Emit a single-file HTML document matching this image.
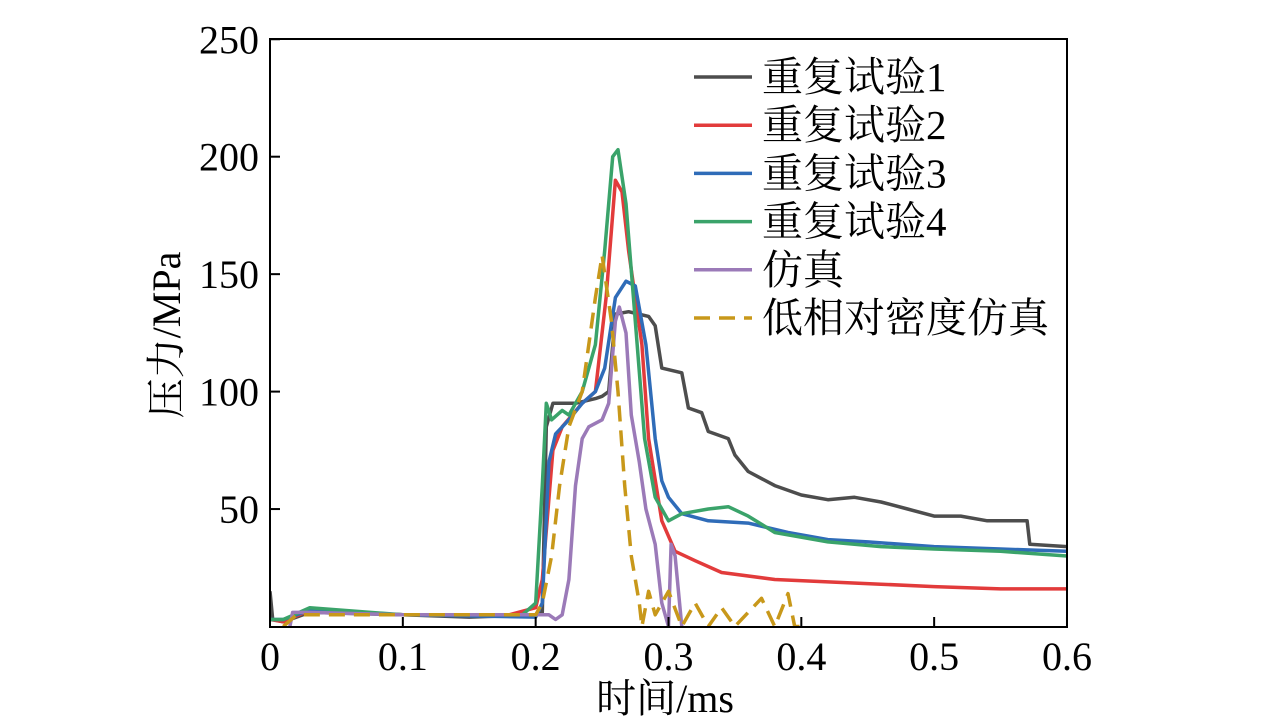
<!DOCTYPE html>
<html><head><meta charset="utf-8"><style>
body{margin:0;background:#fff;}
svg{display:block;font-family:"Liberation Serif","Noto Serif CJK SC",serif;}
</style></head><body>
<svg id="chart" width="1276" height="723">
<defs><clipPath id="clip"><rect x="270" y="39" width="797" height="588"/></clipPath></defs>
<g id="series" clip-path="url(#clip)"></g>
<rect x="270" y="39" width="797" height="588" fill="none" stroke="#000" stroke-width="2"/>
<g id="axes"></g>
<text x="0" y="0" transform="translate(180,335) rotate(-90)" font-size="40" text-anchor="middle">压力/MPa</text>
<text x="665" y="712" font-size="40" text-anchor="middle">时间/ms</text>
<g id="legend"></g>
</svg>
<script>
const xTicks=[0,0.1,0.2,0.3,0.4,0.5,0.6];
const xTickLabels=["0","0.1","0.2","0.3","0.4","0.5","0.6"];
const yTicks=[50,100,150,200,250];
const yTickLabels=["50","100","150","200","250"];
const seriesNames=["重复试验1","重复试验2","重复试验3","重复试验4","仿真","低相对密度仿真"];
const t1=[0,0.002,0.01,0.03,0.1,0.15,0.2,0.205,0.208,0.213,0.23,0.245,0.25,0.255,0.26,0.27,0.285,0.29,0.295,0.31,0.315,0.325,0.33,0.345,0.35,0.36,0.38,0.4,0.42,0.44,0.46,0.48,0.5,0.52,0.54,0.57,0.572,0.6];
const v1=[15,3,2,6,5,4,5,6,85,95,95,97,98,100,133,134,132,128,110,108,93,91,83,80,73,66,60,56,54,55,53,50,47,47,45,45,35,34];
const t2=[0,0.01,0.03,0.1,0.18,0.2,0.205,0.213,0.22,0.235,0.245,0.253,0.26,0.265,0.27,0.28,0.285,0.295,0.305,0.32,0.34,0.38,0.42,0.46,0.5,0.55,0.6];
const v2=[3,2,7,5,5,8,20,75,85,95,100,140,190,185,160,120,80,45,32,28,23,20,19,18,17,16,16];
const t3=[0,0.01,0.03,0.1,0.2,0.205,0.21,0.215,0.225,0.235,0.245,0.252,0.26,0.268,0.275,0.283,0.29,0.295,0.3,0.31,0.33,0.36,0.39,0.42,0.45,0.5,0.55,0.6];
const v3=[3,3,7,5,4,10,70,82,88,95,100,110,140,147,145,120,80,62,55,48,45,44,40,37,36,34,33,32];
const t4=[0,0.01,0.03,0.1,0.19,0.2,0.205,0.208,0.212,0.22,0.225,0.235,0.245,0.252,0.258,0.262,0.268,0.275,0.282,0.29,0.3,0.31,0.33,0.345,0.36,0.38,0.42,0.46,0.5,0.55,0.6];
const v4=[3,3,8,5,5,10,60,95,88,92,90,100,120,160,200,203,180,130,80,55,45,48,50,51,47,40,36,34,33,32,30];
const t5=[0.015,0.017,0.03,0.1,0.2,0.21,0.215,0.22,0.225,0.23,0.235,0.24,0.25,0.255,0.26,0.263,0.268,0.272,0.278,0.283,0.29,0.295,0.3,0.302,0.305,0.31];
const v5=[0,6,6,5,5,5,3,5,20,60,80,85,88,95,130,136,125,90,70,50,35,10,0,35,30,0];
const t6=[0.01,0.02,0.03,0.1,0.2,0.205,0.212,0.218,0.225,0.235,0.245,0.25,0.257,0.262,0.267,0.272,0.278,0.28,0.285,0.29,0.3,0.31,0.32,0.33,0.34,0.35,0.37,0.38,0.39,0.395,0.4];
const v6=[0,5,5,5,5,10,30,60,85,100,140,158,130,100,60,30,10,0,15,5,15,0,10,0,8,0,12,0,14,0,0];
const colors=["#4d4d4d","#e23b3b","#2f6cb8","#3aa36a","#9b7ab8","#c8981a"];
const X=t=>270+t*1328.3, Y=v=>626.5-v*2.349;
const NS="http://www.w3.org/2000/svg";
const sg=document.getElementById('series');
const all=[[t1,v1],[t2,v2],[t3,v3],[t4,v4],[t5,v5],[t6,v6]];
all.forEach((s,i)=>{
 const p=document.createElementNS(NS,'polyline');
 p.setAttribute('points',s[0].map((t,j)=>X(t).toFixed(1)+','+Y(s[1][j]).toFixed(1)).join(' '));
 p.setAttribute('fill','none');p.setAttribute('stroke',colors[i]);p.setAttribute('stroke-width','3.5');
 p.setAttribute('stroke-linejoin','round');
 if(i===5)p.setAttribute('stroke-dasharray','16,9');
 
 
 sg.appendChild(p);
});
const ax=document.getElementById('axes');
xTicks.forEach((t,i)=>{
 const l=document.createElementNS(NS,'line');
 l.setAttribute('x1',X(t));l.setAttribute('x2',X(t));l.setAttribute('y1',627);l.setAttribute('y2',617);l.setAttribute('stroke','#000');l.setAttribute('stroke-width','2');
 
 
 ax.appendChild(l);
 const tx=document.createElementNS(NS,'text');
 tx.setAttribute('x',X(t));tx.setAttribute('y',670);tx.setAttribute('font-size','40');tx.setAttribute('text-anchor','middle');
 tx.textContent=xTickLabels[i];
 
 
 ax.appendChild(tx);
});
yTicks.forEach((v,i)=>{
 const l=document.createElementNS(NS,'line');
 l.setAttribute('x1',270);l.setAttribute('x2',280);l.setAttribute('y1',Y(v));l.setAttribute('y2',Y(v));l.setAttribute('stroke','#000');l.setAttribute('stroke-width','2');
 
 
 ax.appendChild(l);
 const tx=document.createElementNS(NS,'text');
 tx.setAttribute('x',259);tx.setAttribute('y',Y(v)+14);tx.setAttribute('font-size','40');tx.setAttribute('text-anchor','end');
 tx.textContent=yTickLabels[i];
 
 
 ax.appendChild(tx);
});
const lg=document.getElementById('legend');
seriesNames.forEach((n,i)=>{
 const y=77+i*48.2;
 const l=document.createElementNS(NS,'line');
 l.setAttribute('x1',694);l.setAttribute('x2',752);l.setAttribute('y1',y);l.setAttribute('y2',y);l.setAttribute('stroke',colors[i]);l.setAttribute('stroke-width','3.5');
 if(i===5)l.setAttribute('stroke-dasharray','16,9');
 
 
 lg.appendChild(l);
 const tx=document.createElementNS(NS,'text');
 tx.setAttribute('x',762);tx.setAttribute('y',y+14);tx.setAttribute('font-size','41');
 tx.textContent=n;
 
 
 lg.appendChild(tx);
});
</script>
</body></html>
